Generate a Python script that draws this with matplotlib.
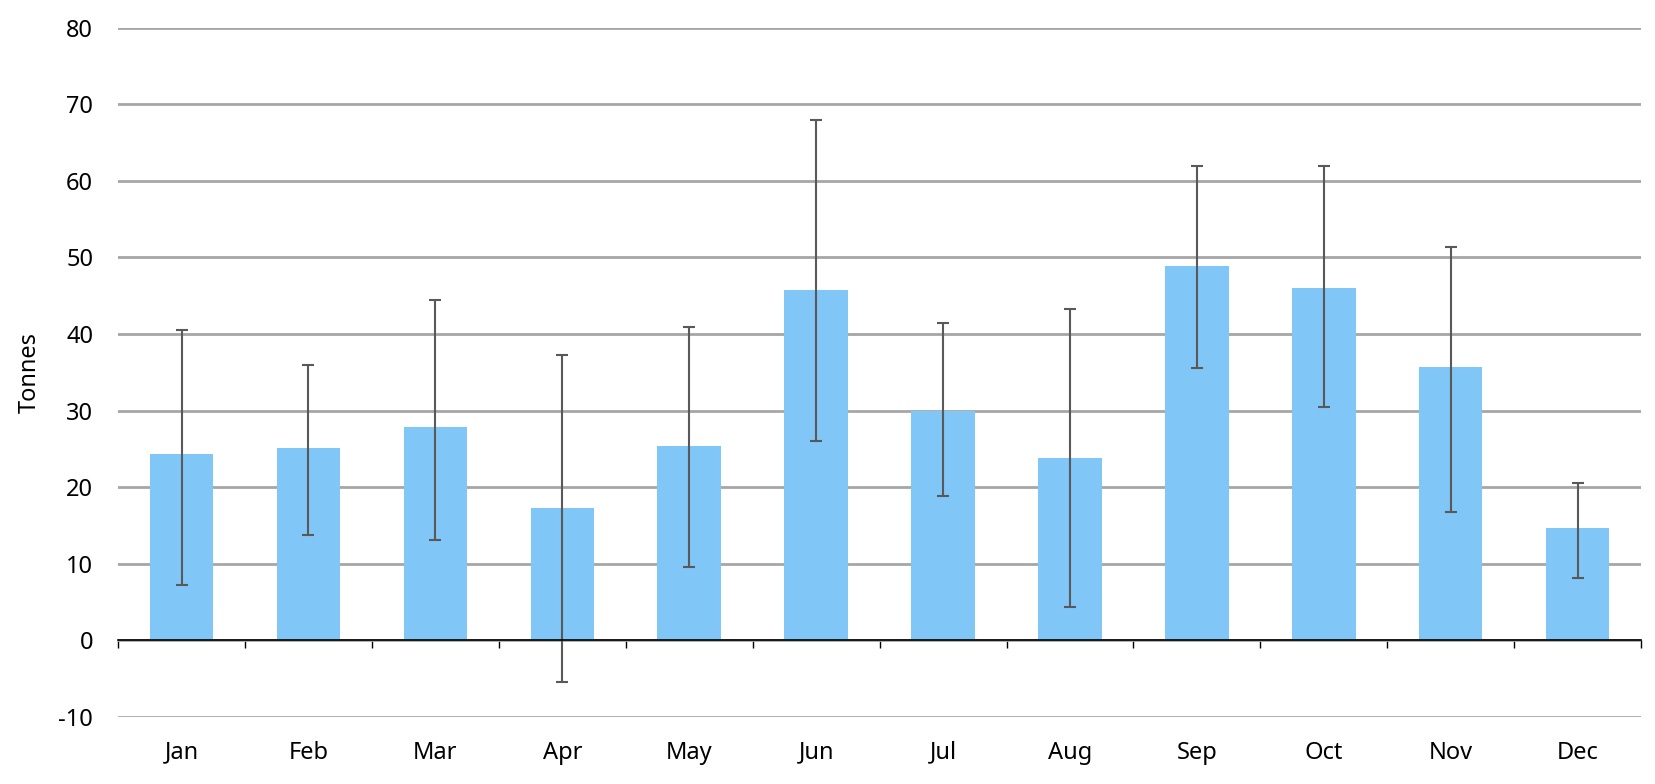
import numpy as np
import matplotlib.pyplot as plt

plt.rcParams['font.family'] = ['Noto Sans', 'DejaVu Sans']
plt.rcParams['axes.unicode_minus'] = False

months = ["Jan", "Feb", "Mar", "Apr", "May", "Jun",
          "Jul", "Aug", "Sep", "Oct", "Nov", "Dec"]
mean = [24.3, 25.1, 27.8, 17.3, 25.4, 45.8, 29.9, 23.8, 48.9, 46.0, 35.7, 14.7]
upper = [40.5, 35.9, 44.4, 37.3, 40.9, 68.0, 41.4, 43.3, 61.9, 61.9, 51.4, 20.5]
lower = [7.2, 13.8, 13.1, -5.5, 9.6, 26.0, 18.8, 4.3, 35.5, 30.5, 16.7, 8.2]

bar_color = "#80c6f7"
grid_color = "#a6a6a6"
err_color = "#595959"


def main():
    fig = plt.figure(figsize=(16.56, 7.84), dpi=100)
    ax = fig.add_axes([0.0713, 0.0855, 0.9197, 0.8793])

    x = np.arange(len(months))
    m = np.array(mean)
    yerr = [m - np.array(lower), np.array(upper) - m]

    ax.set_ylim(-10, 80)
    ax.set_xlim(-0.5, len(months) - 0.5)
    ax.set_yticks(range(-10, 81, 10))
    ax.yaxis.grid(True, color=grid_color, linewidth=2.0, zorder=0)
    ax.set_axisbelow(True)

    ax.bar(x, mean, width=0.5, color=bar_color, zorder=2)
    ax.errorbar(x, mean, yerr=yerr, fmt="none", ecolor=err_color,
                elinewidth=1.5, capsize=4.6, capthick=1.5, zorder=3)

    for side in ["top", "right", "left"]:
        ax.spines[side].set_visible(False)
    # category axis sits at zero
    ax.spines["bottom"].set_position(("data", 0))
    ax.spines["bottom"].set_color("black")
    ax.spines["bottom"].set_linewidth(1.2)
    ax.spines["bottom"].set_zorder(4)
    ax.set_xticks(x)
    ax.set_xticklabels([])
    ax.tick_params(axis="x", which="major", length=0)
    ax.set_xticks(np.arange(len(months) + 1) - 0.5, minor=True)
    ax.tick_params(axis="x", which="minor", length=6, width=1, color="black",
                   direction="out")

    # month labels along the bottom
    sec = ax.secondary_xaxis(0)
    sec.set_xticks(x)
    sec.set_xticklabels(months, fontsize=17)
    sec.tick_params(length=0, pad=17)
    sec.spines["bottom"].set_visible(False)

    ax.tick_params(axis="y", length=0, pad=18, labelsize=17)
    ax.set_ylabel("Tonnes", fontsize=17, labelpad=12)

    fig.savefig("out.png", dpi=100)
    plt.close(fig)


if __name__ == "__main__":
    main()
